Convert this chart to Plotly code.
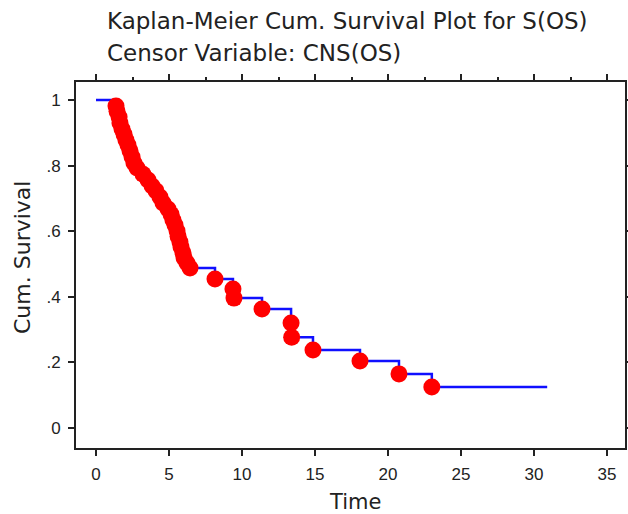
import plotly.graph_objects as go

# Kaplan-Meier event times and survival after each event
event_time = [1.37, 1.44, 1.58, 1.64, 1.78, 1.92, 2.05, 2.19, 2.33, 2.47, 2.60, 2.81, 3.22, 3.56, 3.84,
              4.11, 4.38, 4.59, 4.93, 5.14, 5.27, 5.41, 5.55, 5.62, 5.75, 5.82, 5.96, 6.03, 6.23, 6.44,
              8.15, 9.38, 9.45, 11.37, 13.36, 13.40, 14.86, 18.08, 20.75, 23.0]
event_surv = [0.982, 0.966, 0.948, 0.930, 0.912, 0.896, 0.878, 0.863, 0.845, 0.826, 0.808, 0.793, 0.774, 0.756, 0.738,
              0.723, 0.704, 0.686, 0.668, 0.652, 0.634, 0.619, 0.601, 0.585, 0.567, 0.552, 0.534, 0.518, 0.503, 0.488,
              0.454, 0.424, 0.396, 0.363, 0.320, 0.277, 0.238, 0.204, 0.165, 0.125]
start_time, start_surv = 0.0, 1.0
end_time = 30.9

x_ticks = [0, 5, 10, 15, 20, 25, 30, 35]
y_ticks = [0, 0.2, 0.4, 0.6, 0.8, 1.0]
y_tick_text = ["0", ".2", ".4", ".6", ".8", "1"]

title_line1 = "Kaplan-Meier Cum. Survival Plot for S(OS)"
title_line2 = "Censor Variable: CNS(OS)"

step_x = [start_time] + event_time + [end_time]
step_y = [start_surv] + event_surv + [event_surv[-1]]

FONT = "Liberation Sans, Arial, sans-serif"
TFONT = "DejaVu Sans, sans-serif"
AX = "#222222"

fig = go.Figure()
fig.add_trace(go.Scatter(x=step_x, y=step_y, mode="lines", line=dict(shape="hv", color="#1010ff", width=2.5),
                         hoverinfo="skip", showlegend=False))
fig.add_trace(go.Scatter(x=event_time, y=event_surv, mode="markers",
                         marker=dict(symbol="circle", size=17, color="#ff0000", line=dict(width=0)),
                         showlegend=False))
# invisible trace to activate the top axis
fig.add_trace(go.Scatter(x=[None], y=[None], xaxis="x2", showlegend=False))

xr = [-1.37, 36.23]
fig.update_layout(
    width=628, height=514,
    margin=dict(l=76, r=3, t=82, b=66, autoexpand=False),
    paper_bgcolor="white", plot_bgcolor="white",
    font=dict(family=FONT, color=AX),
    xaxis=dict(range=xr, tickvals=x_ticks, ticks="outside", ticklen=6, tickwidth=2, tickcolor=AX,
               showline=True, linecolor=AX, linewidth=2, showgrid=False, zeroline=False, automargin=False,
               tickfont=dict(size=17, family=FONT, color=AX), ticklabelstandoff=4),
    xaxis2=dict(range=xr, overlaying="x", side="top", tickvals=x_ticks, ticks="outside", ticklen=6,
                tickwidth=2, tickcolor=AX, showticklabels=False, showline=True, linecolor=AX, linewidth=2,
                showgrid=False, zeroline=False, automargin=False,
                minor=dict(tickvals=[2.5, 7.5, 12.5, 17.5, 22.5, 27.5, 32.5], ticks="outside", ticklen=3,
                           tickwidth=2, tickcolor=AX)),
    yaxis=dict(range=[-0.061, 1.055], tickvals=y_ticks, ticktext=y_tick_text, ticks="outside", ticklen=6,
               tickwidth=2, tickcolor=AX, showline=True, linecolor=AX, linewidth=2, mirror="ticks",
               showgrid=False, zeroline=False, automargin=False, tickfont=dict(size=17, family=FONT, color=AX),
               ticklabelstandoff=4),
    annotations=[
        dict(text=title_line1, xref="paper", yref="paper", x=(105 - 76) / 549, y=(448 - 21) / 366,
             xanchor="left", yanchor="middle", showarrow=False, font=dict(size=23, family=TFONT, color=AX)),
        dict(text=title_line2, xref="paper", yref="paper", x=(105 - 76) / 549, y=(448 - 53) / 366,
             xanchor="left", yanchor="middle", showarrow=False, font=dict(size=23, family=TFONT, color=AX)),
        dict(text="Cum. Survival", xref="paper", yref="paper", x=(22 - 76) / 549, y=(448 - 258) / 366,
             xanchor="center", yanchor="middle", textangle=-90, showarrow=False,
             font=dict(size=22, family=TFONT, color=AX)),
        dict(text="Time", xref="paper", yref="paper", x=(355 - 76) / 549, y=(448 - 502) / 366,
             xanchor="center", yanchor="middle", showarrow=False, font=dict(size=21, family=TFONT, color=AX)),
    ],
)
fig.write_html("out.html")
